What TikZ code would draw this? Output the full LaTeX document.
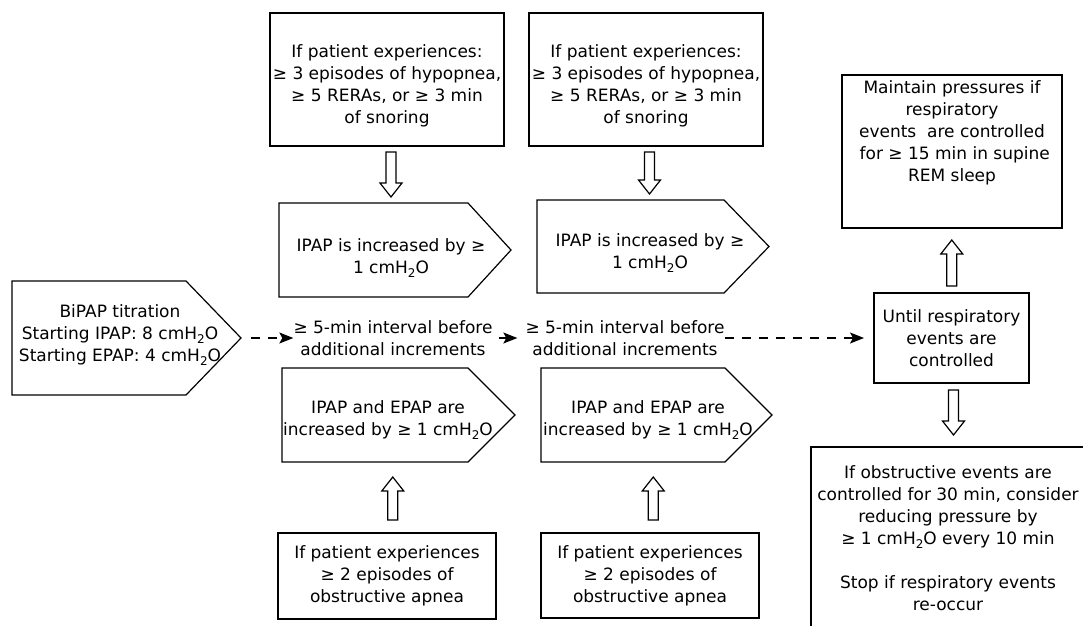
\documentclass[tikz,border=0pt]{standalone}
\usepackage{fontspec}
\setmainfont{DejaVu Sans}
\usetikzlibrary{calc,arrows.meta}
\tikzset{
  lw/.style={line width=1.2pt},
  hold/.style={inner sep=0pt, outer sep=0pt},
  boxnode/.style={draw, lw, inner sep=0pt, outer sep=0pt},
  txt/.style={align=center, inner sep=0pt, font=\fontsize{17}{22}\selectfont},
  dasharrow/.style={lw, dash pattern=on 9pt off 8pt, -{Stealth[length=14pt,width=11pt,inset=3pt]}},
  barrow/.style={draw, lw, fill=white, line join=miter},
}
\newcommand\subtwo{\raisebox{-0.45ex}{\fontsize{12}{12}\selectfont 2}}
\newcommand\pentshape[6]{%
  \node[hold, minimum width=#4pt, minimum height=#5pt] (#1) at (#2,#3) {};
  \draw[lw, line join=miter] (#1.north west) -- ($(#1.north east)+(-#6pt,0pt)$) -- (#1.east)
    -- ($(#1.south east)+(-#6pt,0pt)$) -- (#1.south west) -- cycle;
}
\newcommand\vbarrow[4]{%
  \draw[barrow] let \p1=(#1), \p2=(#2), \n1={(\x1+\x2)/2}, \n2={(\y2-\y1)/abs(\y2-\y1)},
    \n3={\y1+\n2*#3pt}, \n4={\y2-\n2*#4pt}, \n5={\n4-\n2*14pt} in
    ({\n1*1pt-5pt},{\n3*1pt}) -- ({\n1*1pt-5pt},{\n5*1pt}) -- ({\n1*1pt-11pt},{\n5*1pt})
    -- ({\n1*1pt},{\n4*1pt}) -- ({\n1*1pt+11pt},{\n5*1pt}) -- ({\n1*1pt+5pt},{\n5*1pt})
    -- ({\n1*1pt+5pt},{\n3*1pt}) -- cycle;
}
\begin{document}
\begin{tikzpicture}[x=1pt,y=-1pt]
\useasboundingbox (0,0) rectangle (1083,625);
\clip (0,0) rectangle (1083,625);

% pentagons
\pentshape{bipap}{126.5}{338}{229}{114}{55}
\pentshape{ipapA}{395}{250}{232}{94}{43}
\pentshape{ipapB}{653}{246.5}{232}{93}{45}
\pentshape{bothA}{398.5}{415}{233}{94}{47}
\pentshape{bothB}{656.5}{415}{231}{94}{47}

\node[txt] at (120,335) {BiPAP titration\\Starting IPAP: 8 cmH\subtwo O\\Starting EPAP: 4 cmH\subtwo O};
\node[txt] at (391,258) {IPAP is increased by ≥\\1 cmH\subtwo O};
\node[txt] at (650,253) {IPAP is increased by ≥\\1 cmH\subtwo O};
\node[txt] at (388,420) {IPAP and EPAP are\\increased by ≥ 1 cmH\subtwo O};
\node[txt] at (648,420) {IPAP and EPAP are\\increased by ≥ 1 cmH\subtwo O};

% boxes
\node[boxnode, minimum width=234pt, minimum height=133pt] (topA) at (387,79.5) {};
\node[boxnode, minimum width=234pt, minimum height=133pt] (topB) at (646,79.5) {};
\node[boxnode, minimum width=218pt, minimum height=86pt] (botA) at (387,576) {};
\node[boxnode, minimum width=218pt, minimum height=85pt] (botB) at (650,575.5) {};
\node[boxnode, minimum width=220pt, minimum height=153pt] (maint) at (952,151.5) {};
\node[boxnode, minimum width=155pt, minimum height=90pt] (until) at (951.5,338) {};
\node[boxnode, minimum width=289pt, minimum height=203pt] (reduce) at (955.5,548.5) {};

\node[txt] at (387,86) {If patient experiences:\\≥ 3 episodes of hypopnea,\\≥ 5 RERAs, or ≥ 3 min\\of snoring};
\node[txt] at (646,86) {If patient experiences:\\≥ 3 episodes of hypopnea,\\≥ 5 RERAs, or ≥ 3 min\\of snoring};
\node[txt] at (387,576) {If patient experiences\\≥ 2 episodes of\\obstructive apnea};
\node[txt] at (650,575.5) {If patient experiences\\≥ 2 episodes of\\obstructive apnea};
\node[txt] at (952,133) {Maintain pressures if\\respiratory\\events~ are controlled\\~for ≥ 15 min in supine\\REM sleep};
\node[txt] at (951.5,338) {Until respiratory\\events are\\controlled};
\node[txt] at (948,538) {If obstructive events are\\controlled for 30 min, consider\\reducing pressure by\\≥ 1 cmH\subtwo O every 10 min\\[22pt]Stop if respiratory events\\re-occur};

% interval texts
\node[txt] (tA) at (393,338) {≥ 5-min interval before\\additional increments};
\node[txt] (tB) at (625,338) {≥ 5-min interval before\\additional increments};

% dashed connectors
\draw[dasharrow, shorten <=10pt] (bipap.east) -- (tA.west);
\draw[dasharrow, shorten <=6pt, shorten >=8pt] (tA.east) -- (tB.west);
\draw[dasharrow, shorten >=10pt] (tB.east) -- (until.west);

% block arrows
\vbarrow{topA.south}{ipapA.north}{6}{6}
\vbarrow{topB.south}{ipapB.north}{6}{6}
\vbarrow{botA.north}{bothA.south}{13}{15}
\vbarrow{botB.north}{bothB.south}{13}{15}
\vbarrow{until.north}{maint.south}{7}{12}
\vbarrow{until.south}{reduce.north}{7}{12}
\end{tikzpicture}
\end{document}
